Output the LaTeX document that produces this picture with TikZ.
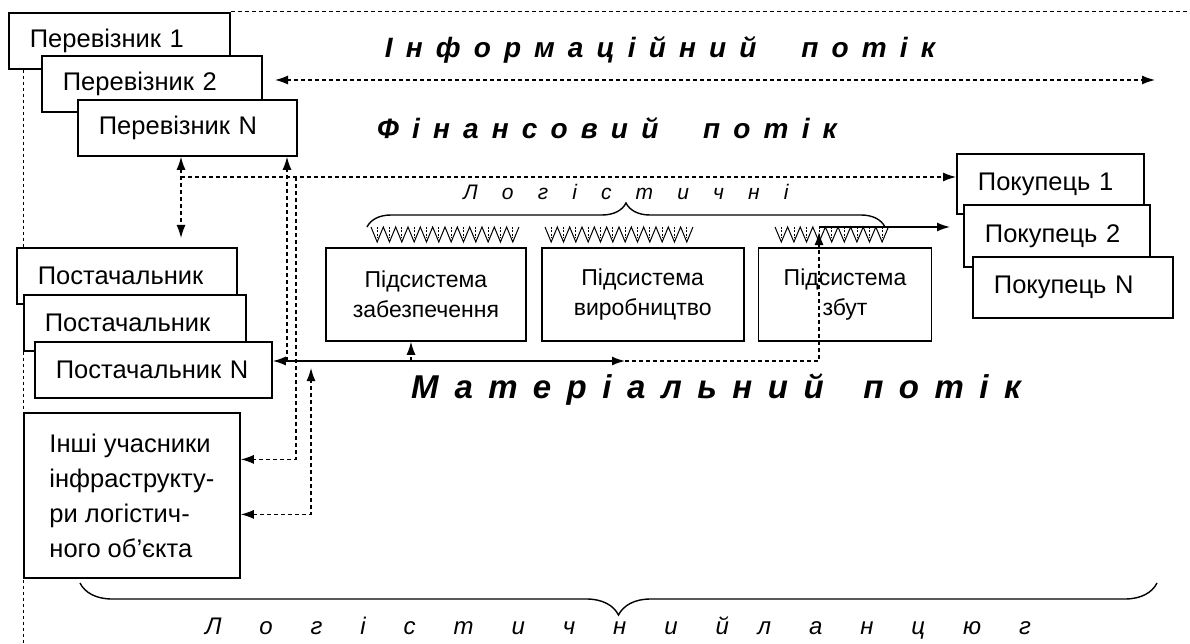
\documentclass[tikz,border=0pt]{standalone}
\usepackage{fontspec}
\setmainfont{Liberation Sans}
\usepackage{tikz}
\usetikzlibrary{positioning,arrows.meta,decorations.pathreplacing,backgrounds}
\hyphenpenalty=10000
\newcommand{\boxfont}{\fontsize{25.5}{35}\selectfont}
\newcommand{\subfont}{\fontsize{23}{30}\selectfont}
\newcommand{\flowfont}[2]{\fontsize{#1}{#1}\selectfont\bfseries\itshape\addfontfeature{LetterSpace=#2}}
\newcommand{\chainfont}[2]{\fontsize{#1}{#1}\selectfont\itshape\addfontfeature{LetterSpace=#2}}
\tikzstyle{box} = [draw, rectangle, fill=white, line width=1.8pt, inner xsep=21pt, inner ysep=0pt, align=left, font=\boxfont, minimum height=56pt]
\tikzstyle{sub} = [draw, rectangle, fill=white, line width=1.8pt, align=center, font=\subfont, minimum height=93pt]
\tikzstyle{dline} = [line width=1.3pt, dash pattern=on 4pt off 3pt]
\tikzstyle{sline} = [line width=1.5pt]
\tikzstyle{brc} = [line width=1.4pt, decorate]
\tikzset{>={Latex[length=13pt,width=9pt]}}
% row of small V marks above a subsystem
\newcommand{\zigrow}[3]{%
  \draw[line width=1pt] (#1,227) \foreach \k in {1,...,#2}{ -- ({#1+(\k-0.5)*#3},242) -- ({#1+\k*#3},227)};
  \foreach \k in {1,...,#2}
    \draw[line width=0.8pt, dash pattern=on 2pt off 1.5pt] ({#1+(\k-0.5)*#3},227) -- ({#1+(\k-0.5)*#3},238);
}

\begin{document}
\begin{tikzpicture}[x=1pt, y=-1pt]
\useasboundingbox (0,0) rectangle (1190,644);

% carriers
\node[box, text width=179pt, anchor=north west] (per1) at (8,12) {Перевізник 1};
\node[box, text width=178pt, below right=43pt and 33pt of per1.north west] (per2) {Перевізник 2};
\node[box, text width=177pt, below right=44pt and 36pt of per2.north west] (perN) {Перевізник N};

% suppliers
\node[box, text width=178pt, anchor=north west] (post1) at (16,247) {Постачальник};
\node[box, text width=180pt, below right=47pt and 7pt of post1.north west] (post2) {Постачальник};
\node[box, text width=195pt, below right=47pt and 11pt of post2.north west] (postN) {Постачальник N};
\node[box, minimum width=216pt, minimum height=165pt, anchor=north west] (inshi) at (23,412) {Інші учасники\\інфраструкту-\\ри логістич-\\ного об’єкта};

% subsystems
\node[sub, minimum width=200pt, anchor=north west] (sub1) at (325,247) {Підсистема\\забезпечення};
\node[sub, minimum width=202pt, right=14pt of sub1] (sub2) {Підсистема\\виробництво};
\node[sub, minimum width=173pt, right=13pt of sub2] (sub3) {Підсистема\\збут};

% buyers
\node[box, text width=145pt, minimum height=60pt, anchor=north west] (pok1) at (956,153) {Покупець 1};
\node[box, text width=144pt, minimum height=62pt, below right=51pt and 7pt of pok1.north west] (pok2) {Покупець 2};
\node[box, text width=158pt, minimum height=61pt, below right=52pt and 9pt of pok2.north west] (pokN) {Покупець N};

% flow labels
\node[font=\flowfont{28}{47}] (infoLbl) at (660,50) {Інформаційний\hspace{1.6em}потік};
\node[font=\flowfont{28}{47}] (finLbl) at (607,128) {Фінансовий\hspace{1.6em}потік};
\node[font=\flowfont{33}{47}] (matLbl) at (716,390) {Матеріальний\hspace{1.2em}потік};
\node[font=\chainfont{21}{115}] (logLbl) at (626,192) {Логістичні};
\node[font=\chainfont{24}{158}] (chainLbl) at (618,628) {Логістичний\hspace{1.2em}ланцюг};

% frame
\coordinate (frameR) at (1190,12);
\coordinate (frameL) at (23,644);
\begin{scope}[on background layer]
\draw[dline, line width=1pt] (per1.north east) -- (frameR);
\draw[dline, line width=1pt, dash pattern=on 3pt off 3pt] (per1.south -| frameL) -- (frameL);
\end{scope}

% information flow
\coordinate (infoW) at (275,80);
\coordinate (infoE) at (1155,80);
\draw[dline, <->] (infoW) -- (infoE);

% financial flow
\coordinate (fin0) at (181,177);
\coordinate (dn1) at (296,177);
\draw[dline, ->] (fin0) -- (fin0 -| pok1.west);
\draw[dline, <->, shorten >=9pt] (perN.south -| fin0) -- (post1.north -| fin0);
\draw[dline, ->] (dn1) |- ([yshift=36pt]inshi.east);

% material flow
\coordinate (up1) at (287,361);
\coordinate (up2) at (311,368);
\coordinate (up3) at (411,361);
\coordinate (m1) at (625,361);
\coordinate (m2) at (819,227);
\draw[sline, <->] (postN.east |- m1) -- (m1);
\draw[dline, ->] (up1) -- (up1 |- perN.south);
\draw[dline, <->] ([yshift=-19pt]inshi.east) -| (up2);
\draw[dline, ->] (up3) -- (up3 |- sub1.south);
\draw[dline, ->] (m1) -| ([yshift=-5pt]m2);
\draw[sline, ->, shorten >=13pt] (m2) -- (m2 -| pok2.west);

% logistics braces
\zigrow{371}{12}{12.33}
\zigrow{545}{12}{12.33}
\zigrow{775}{9}{12.6}
\draw[brc, decoration={brace, amplitude=24pt}] (367,227) -- (885,227);
\draw[brc, decoration={brace, mirror, amplitude=32pt}] (80,583) -- (1157,583);
\end{tikzpicture}
\end{document}
